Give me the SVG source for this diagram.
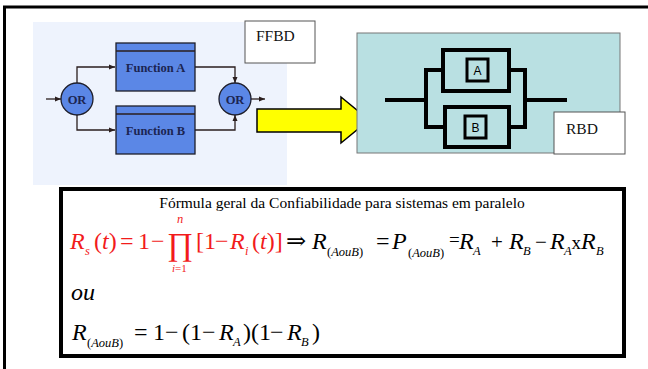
<svg xmlns="http://www.w3.org/2000/svg" width="648" height="369" viewBox="0 0 648 369">
<defs>
<style>
text{font-family:"Liberation Serif","Times New Roman",Tinos,"DejaVu Serif",serif}
.fn{fill:#5b87e6;stroke:#1e1e2a;stroke-width:1.3}
.lbl{font-weight:bold;font-size:12.5px;fill:#1b2552;text-anchor:middle}
.con{fill:none;stroke:#2a1e1e;stroke-width:1.3}
.box{fill:#fff;stroke:#555;stroke-width:1}
.tag{font-size:15.5px;fill:#111}
.rb{fill:none;stroke:#000;stroke-width:4}
.m{font-size:24px}
.o{font-size:21px}
.i{font-style:italic}
.s{font-size:12.5px;font-style:italic}
.red{fill:#f21b1b}
.blk{fill:#000}
.sans{font-family:"Liberation Sans",Arial,sans-serif;font-size:12px;text-anchor:middle}
</style>
<marker id="ah" viewBox="0 0 6 6" refX="6" refY="3" markerWidth="6" markerHeight="6" orient="auto" markerUnits="userSpaceOnUse">
<path d="M0,0.5 L6,3 L0,5.5 z" fill="#2a1e1e"/>
</marker>
</defs>
<rect width="648" height="369" fill="#fff"/>
<path d="M4.5,369 V7 H648" fill="none" stroke="#000" stroke-width="3"/>

<rect x="33" y="22" width="254" height="163" fill="#eef3fd"/>
<g id="ffbd-label"><rect class="box" x="245" y="21" width="70" height="42"/><text class="tag" x="256" y="41">FFBD</text></g>

<g id="connectors">
<line class="con" x1="46" y1="99" x2="61" y2="99" marker-end="url(#ah)"/>
<polyline class="con" points="77,83 77,67 115,67" marker-end="url(#ah)"/>
<polyline class="con" points="77,115 77,130 115,130" marker-end="url(#ah)"/>
<polyline class="con" points="195,67 235,67 235,83" marker-end="url(#ah)"/>
<polyline class="con" points="195,130 235,130 235,115" marker-end="url(#ah)"/>
<line class="con" x1="250" y1="99" x2="265" y2="99" marker-end="url(#ah)"/>
</g>

<g id="or1"><circle class="fn" cx="77" cy="99" r="16"/><text class="lbl" x="77" y="103.5">OR</text></g>
<g id="or2"><circle class="fn" cx="235" cy="99" r="16"/><text class="lbl" x="235" y="103.5">OR</text></g>
<g id="funcA"><rect class="fn" x="116" y="43" width="79" height="48"/><line class="con" x1="116" y1="51" x2="195" y2="51" stroke="#1e1e2a"/><text class="lbl" x="155.5" y="72">Function A</text></g>
<g id="funcB"><rect class="fn" x="116" y="106" width="79" height="48"/><line class="con" x1="116" y1="114" x2="195" y2="114" stroke="#1e1e2a"/><text class="lbl" x="155.5" y="135">Function B</text></g>

<g id="big-arrow"><path d="M257,109 H341 V97 L369,120 L341,143 V132 H257 Z" fill="#ffff00" stroke="#000" stroke-width="1.5"/></g>

<g id="rbd">
<rect x="357" y="33" width="263" height="120" fill="#b9e0e2" stroke="#777" stroke-width="1"/>
<line class="rb" x1="385" y1="100" x2="427" y2="100"/>
<polyline class="rb" points="444,70 426,70 426,127 445,127"/>
<polyline class="rb" points="508,70 525,70 525,127 508,127"/>
<line class="rb" x1="525" y1="100" x2="567" y2="100"/>
<rect class="rb" x="443" y="50" width="66" height="41"/>
<rect class="rb" x="445" y="107" width="64" height="40"/>
<rect x="467" y="59" width="21" height="22" fill="none" stroke="#000" stroke-width="3"/>
<text class="sans" x="477.5" y="75">A</text>
<rect x="465" y="116" width="21" height="22" fill="none" stroke="#000" stroke-width="3"/>
<text class="sans" x="475.5" y="132">B</text>
</g>
<g id="rbd-label"><rect class="box" x="554" y="112" width="71" height="42"/><text class="tag" x="566" y="134">RBD</text></g>

<g id="formula">
<rect x="61" y="189" width="563" height="167" fill="#fff" stroke="#000" stroke-width="4"/>
<text x="342" y="208" font-size="15.5" text-anchor="middle">Fórmula geral da Confiabilidade para sistemas em paralelo</text>
<g class="red">
<text class="m i" x="70" y="249">R</text>
<text class="s" x="85" y="255">s</text>
<text class="m" x="94" y="249">(<tspan class="i">t</tspan>)</text>
<text class="m" x="120" y="249">=</text>
<text class="m" x="138" y="249">1</text>
<text class="m" x="151" y="249">−</text>
<text x="167" y="255" font-size="32">∏</text>
<text class="s" x="177" y="223" font-size="11">n</text>
<text x="172" y="272" font-size="11"><tspan font-style="italic">i</tspan>=1</text>
<text class="m" x="196" y="249">[1</text>
<text class="m" x="215" y="249">−</text>
<text class="m i" x="230" y="249">R</text>
<text class="s" x="245" y="255">i</text>
<text class="m" x="252" y="249">(<tspan class="i">t</tspan>)]</text>
</g>
<g class="blk">
<text class="m" x="286" y="249">⇒</text>
<text class="m i" x="312" y="249">R</text>
<text class="s" x="327" y="256"><tspan font-style="normal">(</tspan>AouB<tspan font-style="normal">)</tspan></text>
<text class="m" x="376" y="249">=</text>
<text class="m i" x="392" y="249">P</text>
<text class="s" x="408" y="257"><tspan font-style="normal">(</tspan>AouB<tspan font-style="normal">)</tspan></text>
<text x="449" y="246" font-size="19">=</text>
<text class="m i" x="459" y="249">R</text>
<text class="s" x="473" y="255">A</text>
<text class="m o" x="491" y="249">+</text>
<text class="m i" x="509" y="249">R</text>
<text class="s" x="523" y="255">B</text>
<text class="m o" x="535" y="249">−</text>
<text class="m i" x="550" y="249">R</text>
<text class="s" x="564" y="255">A</text>
<text x="571.5" y="249" font-size="19">x</text>
<text class="m i" x="581" y="249">R</text>
<text class="s" x="596" y="255">B</text>
</g>
<text class="m i" x="71" y="300" font-size="22">ou</text>
<g class="blk">
<text class="m i" x="72" y="340">R</text>
<text class="s" x="87" y="347"><tspan font-style="normal">(</tspan>AouB<tspan font-style="normal">)</tspan></text>
<text class="m" x="134" y="340">=</text>
<text class="m" x="153" y="340">1</text>
<text class="m" x="165" y="340">−</text>
<text class="m" x="182" y="340">(1</text>
<text class="m" x="202" y="340">−</text>
<text class="m i" x="219" y="340">R</text>
<text class="s" x="233" y="346">A</text>
<text class="m" x="243" y="340">)(1</text>
<text class="m" x="270" y="340">−</text>
<text class="m i" x="287" y="340">R</text>
<text class="s" x="301" y="346">B</text>
<text class="m" x="312" y="340">)</text>
</g>
</g>
</svg>
